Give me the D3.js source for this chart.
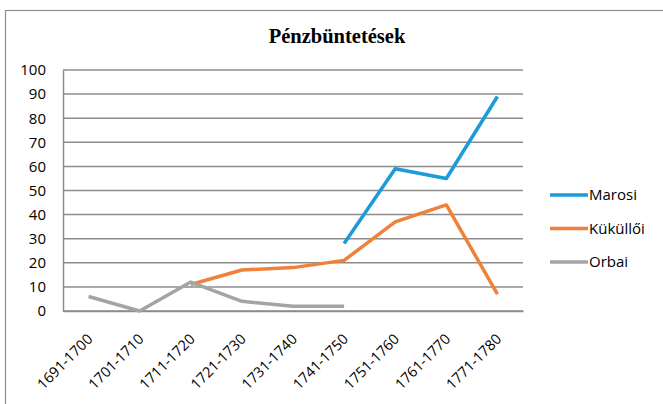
<!DOCTYPE html>
<html>
<head>
<meta charset="utf-8">
<script src="https://cdn.jsdelivr.net/npm/d3@7"></script>
<style>
  body { margin: 0; background: #fff; }
  svg { display: block; }
</style>
</head>
<body>
<div id="chart"></div>
<script>
// decades on the x axis
const categories = ["1691-1700", "1701-1710", "1711-1720", "1721-1730", "1731-1740",
                    "1741-1750", "1751-1760", "1761-1770", "1771-1780"];
// null = no data for that decade
const marosi   = [null, null, null, null, null, 28, 59, 55, 89];
const kukulloi = [null, null, 11, 17, 18, 21, 37, 44, 7];
const orbai    = [6, 0, 12, 4, 2, 2, null, null, null];
const seriesNames = ["Marosi", "Küküllői", "Orbai"];
const yTicks = [0, 10, 20, 30, 40, 50, 60, 70, 80, 90, 100];

const W = 663, H = 404;
const plot = {left: 63, right: 523, top: 70, bottom: 311};
const colors = ["#1b9bd7", "#f0813b", "#a2a5a6"];

const svg = d3.select("#chart").append("svg")
  .attr("width", W)
  .attr("height", H);

// outer chart frame (cut off at right/bottom like the screenshot)
svg.append("rect")
  .attr("x", 5.5).attr("y", 10.5)
  .attr("width", 700).attr("height", 500)
  .attr("fill", "none")
  .attr("stroke", "#8a8f8f")
  .attr("stroke-width", 1.2);

svg.append("text")
  .attr("x", 337).attr("y", 43)
  .attr("text-anchor", "middle")
  .style("font-family", "'Liberation Serif', 'Times New Roman', serif")
  .style("font-weight", "bold")
  .style("font-size", "20.5px")
  .text("Pénzbüntetések");

let x = d3.scaleBand().domain(categories).range([plot.left, plot.right]),
    y = d3.scaleLinear().domain([0, 100]).range([plot.bottom, plot.top]);

// horizontal grid
svg.append("g")
  .selectAll("line")
  .data(yTicks)
  .enter().append("line")
  .attr("x1", plot.left).attr("x2", plot.right)
  .attr("y1", d => y(d)).attr("y2", d => y(d))
  .attr("stroke", "#8c8c8c")
  .attr("stroke-width", 1.5);

// y axis
let yAxis = d3.axisLeft(y).tickValues(yTicks).tickSize(0).tickPadding(17);
const gy = svg.append("g")
  .attr("transform", "translate(" + plot.left + ",0)")
  .call(yAxis);
gy.select(".domain").attr("stroke", "#8c8c8c").attr("stroke-width", 1.5);
gy.selectAll("text")
  .style("font-family", "'Open Sans', sans-serif")
  .style("font-size", "15px")
  .attr("fill", "#000");

// x axis
let xAxis = d3.axisBottom(x).tickSize(0).tickPadding(0);
const gx = svg.append("g")
  .attr("transform", "translate(0," + plot.bottom + ")")
  .call(xAxis);
gx.select(".domain").attr("stroke", "#8c8c8c").attr("stroke-width", 1.5);
gx.selectAll("text")
  .style("font-family", "'Open Sans', sans-serif")
  .style("font-size", "14.5px")
  .attr("fill", "#000")
  .attr("text-anchor", "end")
  .attr("dy", null)
  .attr("transform", "translate(5,29) rotate(-45)");

// lines
const line = d3.line()
  .defined(d => d != null)
  .x((d, i) => x(categories[i]) + x.bandwidth() / 2)
  .y(d => y(d));

[marosi, kukulloi, orbai].forEach(function(vals, k) {
  svg.append("path")
    .datum(vals)
    .attr("fill", "none")
    .attr("stroke", colors[k])
    .attr("stroke-width", 3.5)
    .attr("stroke-linejoin", "round")
    .attr("d", line);
});

// legend
const legend = svg.append("g").selectAll("g")
  .data(seriesNames)
  .enter().append("g")
  .attr("transform", (d, i) => "translate(550," + (195 + i * 33.5) + ")");

legend.append("line")
  .attr("x1", 0).attr("x2", 38)
  .attr("stroke", (d, i) => colors[i])
  .attr("stroke-width", 3.5);

legend.append("text")
  .attr("x", 39).attr("dy", "0.35em")
  .style("font-family", "'Open Sans', sans-serif")
  .style("font-size", "15px")
  .text(d => d);
</script>
</body>
</html>
